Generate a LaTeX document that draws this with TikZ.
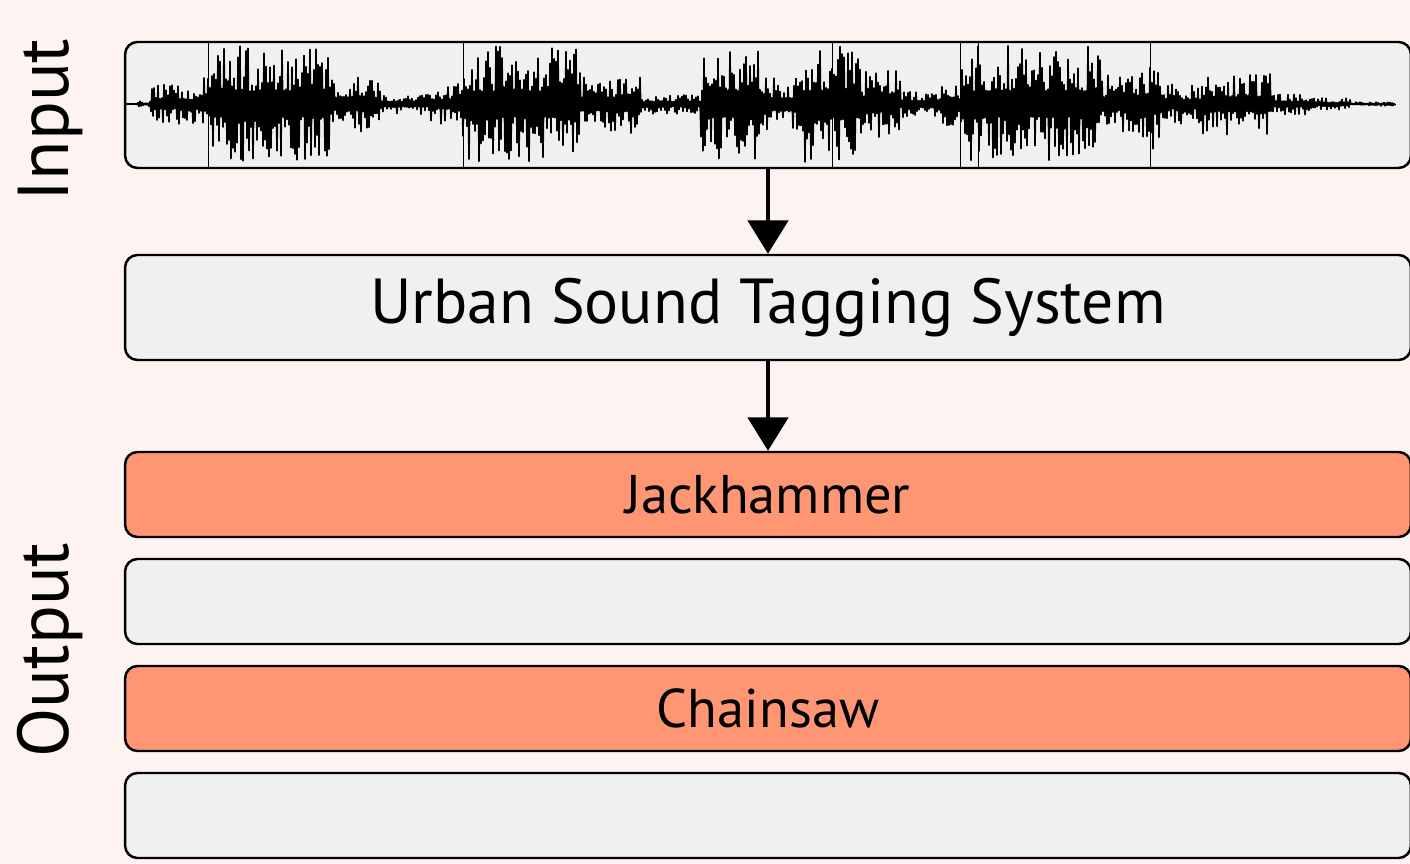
\documentclass[tikz,border=0pt]{standalone}
\usepackage{fontspec}
\setmainfont{PT Sans}
\usetikzlibrary{arrows.meta}
\definecolor{bgpink}{RGB}{253,244,241}
\definecolor{boxgray}{RGB}{240,240,240}
\definecolor{tagorange}{RGB}{255,150,115}

\begin{document}
\begin{tikzpicture}[x=0.02cm,y=-0.02cm,
    box/.style={draw,line width=1.4pt,rounded corners=7pt,fill=boxgray,minimum width=25.72cm,inner sep=0pt},
    tag/.style={box,minimum height=1.7cm,font=\fontsize{31}{37}\selectfont},
    hit/.style={tag,fill=tagorange},
    flow/.style={-{Triangle[width=23pt,length=19pt]},line width=1.9pt},
    side/.style={rotate=90,font=\fontsize{41}{49}\selectfont},
    wave/.style={line width=0.9pt,line join=round}]
            \useasboundingbox[fill=bgpink] (0,0) rectangle (1410,864);

            \node[box,minimum height=2.52cm] (input) at (768,105) {};
            \node[box,minimum height=2.1cm,font=\fontsize{36.2}{44}\selectfont] (system) at (768,307.5) {Urban Sound Tagging System};
            \node[hit] (jackhammer) at (768,494.5) {Jackhammer};
            \node[tag] (empty1) at (768,601.5) {};
            \node[hit] (chainsaw) at (768,708.5) {Chainsaw};
            \node[tag] (empty2) at (768,815.5) {};

            \node[side] (inlabel) at (50,120) {Input};
            \node[side] (outlabel) at (50,650) {Output};

            % waveform
            \pgfmathsetseed{7}
            \draw[wave] (125,104) -- (137,104)
                foreach \xa/\xb/\amp in {137/150/3, 151/200/20, 201/210/30, 211/330/58, 331/380/28,
                    381/430/11, 431/462/20, 463/580/58, 581/640/30, 641/700/10, 701/760/57,
                    761/800/26, 801/860/58, 861/900/34, 901/940/14, 941/960/22, 961/1100/58,
                    1101/1140/30, 1141/1160/46, 1161/1200/20, 1201/1270/32, 1271/1310/11,
                    1311/1350/6, 1351/1395/2} {
                    foreach \x in {\xa,...,\xb} {
                        -- (\x,{104+(2*mod(\x,2)-1)*\amp*(0.22+0.78*rnd^1.6)})
                    }
                } -- (1395,104);
            \foreach \x in {208,463,832,960,978,1150}
                \draw[line width=0.45pt] (\x,41) -- (\x,169);

            \draw[flow] (input) -- (system);
            \draw[flow] (system) -- (jackhammer);
\end{tikzpicture}
\end{document}
